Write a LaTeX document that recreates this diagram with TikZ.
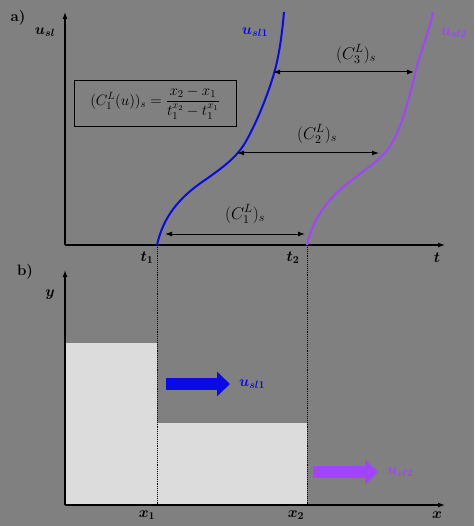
\documentclass[tikz,border=0pt]{standalone}
\usepackage{fix-cm}
\usepackage{amsmath}
\usepackage{bm}
\usetikzlibrary{arrows.meta, positioning}

\definecolor{bggray}{HTML}{808080}
\definecolor{fillgray}{HTML}{DCDCDC}
\definecolor{slblue}{HTML}{0A0AE6}
\definecolor{slpurple}{HTML}{A044FF}

\begin{document}
\begin{tikzpicture}[
    x=1pt, y=-1pt,
    >={Latex[length=7pt,width=5pt]},
    font=\fontsize{15}{18}\selectfont,
    axis/.style={->, line width=1.3pt, black},
    gap/.style={<->, line width=1pt, black},
    guide/.style={densely dotted, line width=0.9pt, black},
    curve/.style={line width=2pt},
    lbl/.style={inner sep=1pt},
    gaplbl/.style={inner sep=1pt, font=\fontsize{17}{20}\selectfont},
    flow/.style={line width=12pt, -{Triangle[length=13pt,width=24pt]}}
  ]
  \useasboundingbox[fill=bggray] (0,0) rectangle (474,526);

  % part a): u_sl against t
  \coordinate (oa)  at (65,245);
  \coordinate (uy)  at (65,12);
  \coordinate (tx)  at (445,245);
  \coordinate (t1)  at (157,245);
  \coordinate (t2)  at (307,245);
  \draw[axis] (oa) -- (uy);
  \draw[axis] (oa) -- (tx);

  \node[lbl, font=\fontsize{15}{18}\selectfont\bfseries] (parta) at (18,18) {a)};
  \node[lbl] (ulab)  at (45,32)  {$\bm{u_{sl}}$};
  \node[lbl] (tlab)  at (437,258) {$\bm{t}$};
  \node[lbl] (t1lab) at (147,258) {$\bm{t_1}$};
  \node[lbl] (t2lab) at (293,258) {$\bm{t_2}$};

  \node[draw, line width=0.8pt, minimum width=162pt, minimum height=46pt,
        inner sep=2pt, font=\fontsize{15}{17}\selectfont] (law) at (155,103)
    {$(C_1^L(u))_s = \dfrac{x_2 - x_1}{t_1^{x_2} - t_1^{x_1}}$};

  \draw[slblue, curve] (t1) .. controls (163,218) and (178,198) .. (205,180)
    .. controls (222,168) and (236,158) .. (245,143)
    .. controls (256,124) and (268,95) .. (275,70)
    .. controls (279,55) and (282,35) .. (284,12);
  \draw[slpurple, curve] (t2) .. controls (313,218) and (328,198) .. (352,180)
    .. controls (370,166) and (383,158) .. (392,143)
    .. controls (402,126) and (410,95) .. (416,70)
    .. controls (421,50) and (429,32) .. (433,12);
  \node[lbl, text=slblue]   (u1lab) at (255,32) {$\bm{u_{sl1}}$};
  \node[lbl, text=slpurple] (u2lab) at (454,33) {$\bm{u_{sl2}}$};

  \coordinate (c1l) at (165,234);
  \coordinate (c1r) at (305,234);
  \coordinate (c2l) at (237,153);
  \coordinate (c2r) at (379,153);
  \coordinate (c3l) at (273,72);
  \coordinate (c3r) at (414,72);
  \draw[gap] (c1l) -- (c1r);
  \draw[gap] (c2l) -- (c2r);
  \draw[gap] (c3l) -- (c3r);
  \node[gaplbl] (c1lab) at (245,214) {$(C_1^L)_s$};
  \node[gaplbl] (c2lab) at (317,134) {$(C_2^L)_s$};
  \node[gaplbl] (c3lab) at (356,54)  {$(C_3^L)_s$};

  % part b): liquid level against x
  \coordinate (ob) at (65,505);
  \coordinate (yy) at (65,270);
  \coordinate (xx) at (445,505);
  \coordinate (x1) at (157,505);
  \coordinate (x2) at (307,505);
  \fill[fillgray] (65,343) rectangle (x1);
  \fill[fillgray] (157,423) rectangle (x2);
  \draw[axis] (ob) -- (yy);
  \draw[axis] (ob) -- (xx);
  \draw[guide] (t1) -- (x1);
  \draw[guide] (t2) -- (x2);

  \node[lbl, font=\fontsize{15}{18}\selectfont\bfseries] (partb) at (25,272) {b)};
  \node[lbl] (ylab)  at (50,295)  {$\bm{y}$};
  \node[lbl] (xlab)  at (437,515) {$\bm{x}$};
  \node[lbl] (x1lab) at (147,515) {$\bm{x_1}$};
  \node[lbl] (x2lab) at (296,515) {$\bm{x_2}$};

  \coordinate (f1a) at (166,384);
  \coordinate (f1b) at (230,384);
  \coordinate (f2a) at (313,472);
  \coordinate (f2b) at (378,472);
  \draw[flow, slblue]   (f1a) -- (f1b);
  \draw[flow, slpurple] (f2a) -- (f2b);
  \node[lbl, text=slblue, right=8pt of f1b]   (u1flow) {$\bm{u_{sl1}}$};
  \node[lbl, text=slpurple, right=8pt of f2b] (u2flow) {$\bm{u_{sl2}}$};
\end{tikzpicture}
\end{document}
